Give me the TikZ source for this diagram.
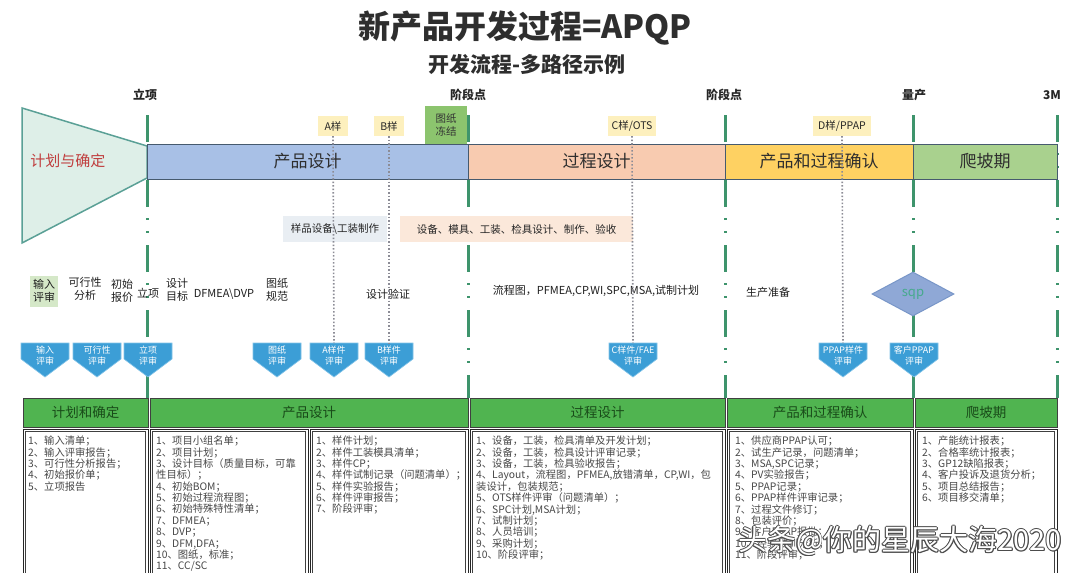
\documentclass[tikz,border=0pt]{standalone}
\usepackage{fontspec}
\setmainfont{Noto Sans CJK SC}
\usetikzlibrary{shapes.geometric}
\definecolor{mgreen}{RGB}{62,148,108}
\definecolor{bandborder}{RGB}{70,90,110}
\definecolor{blueband}{RGB}{168,192,230}
\definecolor{salmonband}{RGB}{248,203,176}
\definecolor{goldband}{RGB}{254,209,98}
\definecolor{greenband}{RGB}{169,209,142}
\definecolor{funnelfill}{RGB}{222,239,232}
\definecolor{funneledge}{RGB}{90,160,150}
\definecolor{redtext}{RGB}{192,62,62}
\definecolor{tagyellow}{RGB}{253,240,190}
\definecolor{freezegreen}{RGB}{140,196,110}
\definecolor{graybox}{RGB}{233,238,243}
\definecolor{peachbox}{RGB}{251,232,218}
\definecolor{inputgreen}{RGB}{213,232,200}
\definecolor{diafill}{RGB}{143,168,214}
\definecolor{diaedge}{RGB}{120,150,200}
\definecolor{sqptext}{RGB}{70,170,140}
\definecolor{revfill}{RGB}{60,158,214}
\definecolor{revedge}{RGB}{130,195,232}
\definecolor{hgreen}{RGB}{80,180,80}
\definecolor{hdtext}{RGB}{25,75,25}
\definecolor{dotgray}{RGB}{140,140,150}
\newcommand\revbox[3]{%
  \fill[revfill, draw=revedge, line width=0.6pt] ({#2-24},343) -- ({#2+24},343) -- ({#2+24},359) -- (#2,377) -- ({#2-24},359) -- cycle;
  \coordinate (#1top) at (#2,343);
  \node[revtext] (#1) at (#2,356) {#3};}
\newcommand\bodycell[2]{%
  \draw[draw=black!85, line width=1pt] (#1,429) rectangle (#2,600);
  \draw[draw=black!75, line width=0.6pt] ({#1+2.5},431.5) rectangle ({#2-2.5},600);}
\begin{document}
\begin{tikzpicture}[x=1pt,y=-1pt,
  ttl/.style={font=\fontsize{32}{36}\selectfont\bfseries, text=black!82},
  subt/.style={font=\fontsize{21}{24}\selectfont\bfseries, text=black!82},
  mile/.style={font=\fontsize{12}{14}\selectfont\bfseries, text=black!85},
  mline/.style={draw=mgreen, line width=3pt, dash pattern=on 27pt off 11pt on 2pt off 11pt on 2pt off 12pt},
  band/.style={draw=bandborder, line width=0.8pt, minimum height=35pt, inner sep=0pt, font=\fontsize{17}{20}\selectfont, text=black!82},
  tagbox/.style={fill=tagyellow, inner sep=2pt, minimum height=20pt, font=\fontsize{10.5}{12}\selectfont, text=black!85},
  lbl/.style={font=\fontsize{11}{13}\selectfont, align=center, inner sep=1pt, text=black!88},
  revtext/.style={font=\fontsize{9}{11}\selectfont, align=center, inner sep=0pt, text=white},
  dotline/.style={draw=dotgray, line width=1.6pt, dash pattern=on 1.5pt off 2pt},
  headcell/.style={draw=black!75, line width=1pt, fill=hgreen, minimum height=29pt, inner sep=0pt, font=\fontsize{13.5}{15}\selectfont, text=hdtext},
  cellt/.style={anchor=north west, align=left, inner sep=0pt, font=\fontsize{10.3}{11.35}\selectfont, text=black!72}
]
\useasboundingbox (0,0) rectangle (1080,573);
\clip (0,0) rectangle (1080,573);
\fill[white] (0,0) rectangle (1080,573);

% titles
\node[ttl] (title) at (525,28) {新产品开发过程=APQP};
\node[subt] (subtitle) at (527,64) {开发流程-多路径示例};

% milestones
\node[mile] (ms1) at (145,95) {立项};
\node[mile] (ms2) at (468,95) {阶段点};
\node[mile] (ms3) at (724,95) {阶段点};
\node[mile] (ms4) at (914,95) {量产};
\node[mile] (ms5) at (1052,95) {3M};

\foreach \i/\x in {1/147,2/468,3/725,4/913,5/1057}{
  \coordinate (mt\i) at (\x,115);
  \coordinate (mb\i) at (\x,398);
  \draw[mline] (mt\i) -- (mb\i);
}

% funnel
\filldraw[fill=funnelfill, draw=funneledge, line width=1.5pt] (22,108) -- (147,146) -- (147,178) -- (22,243) -- cycle;
\node[font=\fontsize{15}{17}\selectfont, text=redtext] (plan) at (68,161) {计划与确定};

% band
\node[band, fill=blueband, minimum width=321pt] (pd) at (307.5,161.5) {产品设计};
\node[band, fill=salmonband, minimum width=257pt] (prd) at (596.5,161.5) {过程设计};
\node[band, fill=goldband, minimum width=188pt] (ppv) at (819,161.5) {产品和过程确认};
\node[band, fill=greenband, minimum width=144pt] (ramp) at (985,161.5) {爬坡期};

% tags above band
\node[tagbox, minimum width=30pt] (tA) at (333,126) {A样};
\node[tagbox, minimum width=30pt] (tB) at (389,126) {B样};
\node[tagbox, minimum width=48pt] (tC) at (632,126) {C样/OTS};
\node[tagbox, minimum width=58pt] (tD) at (842,126) {D样/PPAP};
\node[fill=freezegreen, minimum width=42pt, minimum height=38pt, inner sep=0pt, align=center, font=\fontsize{10.5}{13}\selectfont, text=black!80] (freeze) at (446,125) {图纸\\冻结};

% row of activity boxes
\node[fill=graybox, minimum width=104pt, minimum height=26pt, inner sep=0pt, font=\fontsize{10.5}{12}\selectfont, text=black!85] (tool) at (335,229) {样品设备\textbackslash 工装制作};
\node[fill=peachbox, minimum width=233pt, minimum height=26pt, inner sep=0pt, font=\fontsize{10.5}{12}\selectfont, text=black!85] (equip) at (516.5,229) {设备、模具、工装、检具设计、制作、验收};

% row of step labels
\node[lbl, fill=inputgreen, minimum width=28pt, minimum height=31pt] (l1) at (44,291) {输入\\评审};
\node[lbl] (l2) at (85,289) {可行性\\分析};
\node[lbl] (l3) at (122,291) {初始\\报价};
\node[lbl] (l4) at (148,293) {立项};
\node[lbl] (l5) at (177,290) {设计\\目标};
\node[lbl] (l6) at (224,294) {DFMEA\textbackslash DVP};
\node[lbl] (l7) at (277,290) {图纸\\规范};
\node[lbl] (l8) at (388,294) {设计验证};
\node[lbl] (l9) at (596,291) {流程图，PFMEA,CP,WI,SPC,MSA,试制计划};
\node[lbl] (l10) at (768,292) {生产准备};
\node[diamond, aspect=1.9, minimum width=82pt, minimum height=44pt, inner sep=0pt, fill=diafill, draw=diaedge, line width=1pt, font=\fontsize{13}{15}\selectfont, text=sqptext] (sqp) at (913,294) {sqp};

% review shapes
\revbox{r1}{45}{输入\\评审}
\revbox{r2}{97}{可行性\\评审}
\revbox{r3}{148}{立项\\评审}
\revbox{r4}{277}{图纸\\评审}
\revbox{rA}{334}{A样件\\评审}
\revbox{rB}{389}{B样件\\评审}
\revbox{rC}{633}{C样件/FAE\\评审}
\revbox{rD}{843}{PPAP样件\\评审}
\revbox{rE}{914}{客户PPAP\\评审}

% dotted lines
\draw[dotline] (tA.south) -- (rAtop);
\draw[dotline] (tB.south) -- (rBtop);
\draw[dotline] (tC.south) -- (rCtop);
\draw[dotline] (tD.south) -- (rDtop);

% table header
\node[headcell, minimum width=125pt] (h1) at (85.5,412.5) {计划和确定};
\node[headcell, minimum width=318pt] (h2) at (309,412.5) {产品设计};
\node[headcell, minimum width=255pt] (h3) at (597.5,412.5) {过程设计};
\node[headcell, minimum width=186pt] (h4) at (820,412.5) {产品和过程确认};
\node[headcell, minimum width=142pt] (h5) at (986,412.5) {爬坡期};

% table body cells
\bodycell{23}{148}
\bodycell{150}{308}
\bodycell{310}{468}
\bodycell{470}{725}
\bodycell{727}{913}
\bodycell{915}{1057}

\node[cellt] (c1) at (28,436) {1、输入清单；\\2、输入评审报告；\\3、可行性分析报告；\\4、初始报价单；\\5、立项报告};
\node[cellt] (c2) at (156,436) {1、项目小组名单；\\2、项目计划；\\3、设计目标（质量目标，可靠\\性目标）；\\4、初始BOM；\\5、初始过程流程图；\\6、初始特殊特性清单；\\7、DFMEA；\\8、DVP；\\9、DFM,DFA；\\10、图纸，标准；\\11、CC/SC};
\node[cellt] (c3) at (316,436) {1、样件计划；\\2、样件工装模具清单；\\3、样件CP；\\4、样件试制记录（问题清单）；\\5、样件实验报告；\\6、样件评审报告；\\7、阶段评审；};
\node[cellt] (c4) at (476,436) {1、设备，工装，检具清单及开发计划；\\2、设备，工装，检具设计评审记录；\\3、设备，工装，检具验收报告；\\4、Layout，流程图，PFMEA,放错清单，CP,WI，包\\装设计，包装规范；\\5、OTS样件评审（问题清单）；\\6、SPC计划,MSA计划；\\7、试制计划；\\8、人员培训；\\9、采购计划；\\10、阶段评审；};
\node[cellt] (c5) at (735,436) {1、供应商PPAP认可；\\2、试生产记录，问题清单；\\3、MSA,SPC记录；\\4、PV实验报告；\\5、PPAP记录；\\6、PPAP样件评审记录；\\7、过程文件修订；\\8、包装评价；\\9、客户PPAP报批；\\10、经验教训分析；\\11、阶段评审；};
\node[cellt] (c6) at (922,436) {1、产能统计报表；\\2、合格率统计报表；\\3、GP12缺陷报表；\\4、客户投诉及退货分析；\\5、项目总结报告；\\6、项目移交清单；};

% watermark
\foreach \dx/\dy in {-0.9/0,0.9/0,0/-0.9,0/0.9,0.7/0.7,-0.7/-0.7,0.7/-0.7,-0.7/0.7}{
  \node[font=\fontsize{29}{32}\selectfont, text=black!70] at ({900+\dx},{541+\dy}) {头条@你的星辰大海2020};
}
\node[font=\fontsize{29}{32}\selectfont, text=white] (wm) at (900,541) {头条@你的星辰大海2020};
\end{tikzpicture}
\end{document}
